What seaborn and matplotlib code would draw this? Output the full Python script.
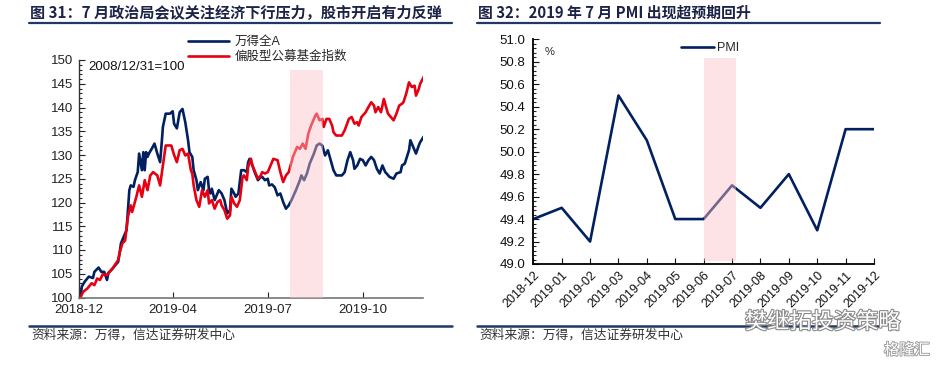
import matplotlib
matplotlib.use('Agg')
import matplotlib.pyplot as plt
import matplotlib.patheffects as pe
from matplotlib.lines import Line2D
from matplotlib.ticker import MultipleLocator, FormatStrFormatter
import seaborn as sns
import pandas as pd

# left chart: index level (2008/12/31=100) by trading-day position
wind_day = [0, 1, 3, 6, 9, 10, 13, 15, 17, 19, 20, 23, 27, 28, 29, 32, 33, 34, 35, 36,
            38, 39, 41, 42, 44, 45, 46, 47, 48, 49, 51, 53, 55, 57, 58, 59, 61, 64, 66, 67,
            69, 71, 73, 75, 77, 78, 80, 81, 83, 84, 86, 88, 89, 91, 92, 93, 94, 96, 98, 99,
            101, 103, 105, 107, 108, 110, 111, 113, 115, 117, 119, 120, 121, 123, 125, 127, 129, 130, 132, 134,
            135, 137, 139, 141, 143, 145, 147, 149, 151, 154, 157, 158, 160, 162, 164, 167, 169, 171, 173, 175,
            177, 179, 181, 183, 187, 189, 191, 193, 195, 196, 198, 200, 202, 204, 206, 208, 210, 212, 214, 216,
            218, 219, 221, 224, 226, 229, 230, 232, 235, 236, 238, 240, 242, 243, 246]
wind_val = [100.0, 102.3, 103.3, 104.4, 104.1, 105.4, 106.3, 105.4, 105.4, 103.7, 105.1, 106.1, 107.5, 109.3, 111.4, 113.5, 114.2, 118.4, 122.6, 123.6,
            123.3, 124.7, 126.4, 130.3, 126.8, 130.6, 126.8, 130.6, 129.6, 130.3, 131.3, 132.4, 130.3, 128.5, 132.0, 135.9, 138.7, 138.7, 139.2, 136.6,
            135.6, 139.0, 139.7, 136.9, 133.1, 130.6, 129.6, 126.8, 124.7, 122.6, 124.3, 122.6, 125.0, 125.4, 122.6, 121.9, 122.9, 120.5, 121.9, 122.6,
            121.9, 120.5, 117.7, 118.4, 122.9, 121.9, 121.2, 121.9, 126.8, 126.8, 126.4, 128.5, 129.2, 127.8, 126.1, 124.7, 125.4, 125.4, 124.7, 125.0,
            123.6, 123.8, 123.2, 121.5, 121.9, 120.1, 118.7, 119.4, 120.5, 122.5, 124.7, 125.7, 124.7, 126.1, 128.2, 130.3, 132.0, 132.4, 132.0, 129.9,
            131.0, 128.9, 126.8, 125.7, 125.7, 126.4, 128.9, 130.6, 128.9, 127.1, 127.8, 129.2, 128.9, 127.8, 128.9, 129.6, 128.9, 127.1, 126.1, 127.8,
            126.4, 126.1, 125.4, 125.0, 126.1, 126.4, 127.8, 128.2, 131.0, 133.1, 131.7, 130.3, 132.0, 132.7, 134.1]

fund_day = [0, 2, 5, 8, 10, 12, 14, 16, 19, 20, 23, 27, 28, 30, 32, 34, 36, 37, 40, 42,
            44, 46, 48, 50, 52, 55, 57, 59, 61, 65, 67, 69, 71, 73, 75, 77, 79, 80, 81, 83,
            85, 87, 89, 91, 92, 94, 96, 98, 100, 101, 103, 105, 107, 108, 110, 112, 114, 116, 117, 119,
            120, 122, 123, 125, 127, 129, 130, 132, 134, 138, 141, 143, 145, 147, 149, 152, 155, 157, 159, 161,
            163, 165, 168, 169, 171, 173, 174, 176, 178, 180, 181, 183, 187, 189, 192, 194, 196, 198, 199, 201,
            204, 206, 208, 210, 211, 213, 215, 217, 219, 220, 222, 224, 226, 228, 230, 231, 233, 235, 237, 239,
            240, 242, 243, 246]
fund_val = [100.0, 101.2, 101.9, 103.0, 102.6, 104.0, 103.7, 104.9, 104.7, 105.2, 106.1, 107.9, 109.3, 111.4, 112.0, 117.0, 119.4, 118.0, 121.2, 123.6,
            121.2, 124.7, 122.6, 125.7, 126.4, 125.7, 123.6, 127.8, 132.0, 132.0, 130.0, 128.5, 131.0, 131.3, 129.9, 130.3, 126.8, 126.1, 123.6, 120.5,
            119.1, 122.6, 121.2, 122.6, 119.8, 120.5, 118.7, 120.1, 120.5, 119.4, 118.4, 116.6, 117.3, 121.2, 119.8, 119.1, 120.5, 125.4, 125.7, 124.7,
            127.5, 129.2, 127.8, 126.4, 125.0, 125.7, 126.4, 126.1, 126.4, 129.2, 128.9, 126.4, 124.3, 125.7, 126.4, 129.6, 131.7, 131.3, 132.4, 131.3,
            134.5, 136.2, 138.3, 138.7, 137.3, 137.6, 135.9, 137.6, 137.6, 136.2, 134.8, 134.1, 134.1, 135.2, 137.6, 138.0, 136.6, 136.9, 136.2, 138.0,
            139.0, 140.1, 141.1, 140.4, 139.0, 140.1, 139.0, 141.8, 139.7, 138.7, 138.0, 137.3, 138.7, 140.4, 140.8, 141.1, 142.9, 145.3, 144.3, 144.6,
            142.5, 143.9, 145.0, 146.7]

date_ticks = [-1, 66, 134, 202]
date_labels = ['2018-12', '2019-04', '2019-07', '2019-10']

# right chart: PMI
pmi_month = ['2018-12', '2019-01', '2019-02', '2019-03', '2019-04', '2019-05', '2019-06',
             '2019-07', '2019-08', '2019-09', '2019-10', '2019-11', '2019-12']
pmi_val = [49.4, 49.5, 49.2, 50.5, 50.1, 49.4, 49.4, 49.7, 49.5, 49.8, 49.3, 50.2, 50.2]

navy = '#002060'
red = '#E60012'
shade = '#FBC3C7'
title_c = '#1B2347'
rule_c = '#1F3864'

sns.set_theme(style='ticks')
plt.rcParams['font.family'] = ['Liberation Sans', 'Noto Sans CJK SC']
plt.rcParams['axes.unicode_minus'] = False

fig = plt.figure(figsize=(9.36, 3.65), dpi=100)
W, H = 936, 365

def fx(px):
    return px / W

def fy(py):
    return 1 - py / H

# ---- left panel
ax1 = fig.add_axes([fx(79), fy(297.5), fx(422.7) - fx(79), fy(60) - fy(297.5)])
wind = pd.DataFrame({'day': wind_day, 'val': wind_val})
fund = pd.DataFrame({'day': fund_day, 'val': fund_val})
sns.lineplot(data=wind, x='day', y='val', ax=ax1, color=navy, lw=1.9, label='万得全A')
sns.lineplot(data=fund, x='day', y='val', ax=ax1, color=red, lw=1.9, label='偏股型公募基金指数')
ax1.axvspan(150, 173.4, ymin=0, ymax=(147.9 - 100) / 50, color=shade, alpha=0.45, lw=0, zorder=3)
ax1.set_xlim(-0.7, 244.8)
ax1.set_ylim(100, 150)
ax1.set_xticks(date_ticks, date_labels)
ax1.yaxis.set_major_locator(MultipleLocator(5))
ax1.yaxis.set_minor_locator(MultipleLocator(1))
ax1.set_xlabel('')
ax1.set_ylabel('')
ax1.tick_params(axis='both', direction='in', labelsize=9.5, colors='#222222', pad=4)
ax1.tick_params(axis='y', which='major', length=4, width=0.8)
ax1.tick_params(axis='y', which='minor', length=2.5, width=0.8, direction='in')
ax1.tick_params(axis='x', length=4, width=0.8, pad=5)
for s in ['top', 'right']:
    ax1.spines[s].set_visible(False)
ax1.spines['left'].set_color('#333333')
ax1.spines['bottom'].set_color('#777777')
ax1.spines['left'].set_linewidth(1.0)
ax1.spines['bottom'].set_linewidth(1.2)
ax1.text(0.026, 0.97, '2008/12/31=100', transform=ax1.transAxes, fontsize=9.5,
         va='center', ha='left', color='#111111')
ax1.legend(loc='upper left', bbox_to_anchor=(fx(188), fy(36)), bbox_transform=fig.transFigure,
           frameon=False, fontsize=9, handlelength=3.3, handletextpad=0.4,
           labelspacing=0.25, borderaxespad=0, borderpad=0)

# ---- right panel
ax2 = fig.add_axes([fx(533.3), fy(264), fx(874) - fx(533.3), fy(39.3) - fy(264)])
pmi = pd.DataFrame({'pos': range(len(pmi_month)), 'val': pmi_val})
sns.lineplot(data=pmi, x='pos', y='val', ax=ax2, color=navy, lw=1.9, label='PMI')
ax2.axvspan(6, 7.15, ymin=0.015, ymax=(50.83 - 49) / 2, color=shade, alpha=0.45, lw=0, zorder=3)
ax2.set_xlim(0, 12)
ax2.set_ylim(49, 51)
ax2.set_xticks(range(len(pmi_month)), pmi_month, rotation=45, ha='right', rotation_mode='anchor')
ax2.yaxis.set_major_locator(MultipleLocator(0.2))
ax2.yaxis.set_minor_locator(MultipleLocator(0.04))
ax2.yaxis.set_major_formatter(FormatStrFormatter('%.1f'))
ax2.set_xlabel('')
ax2.set_ylabel('')
ax2.tick_params(axis='both', direction='in', labelsize=9.5, colors='#111111')
ax2.tick_params(axis='y', which='major', length=4, width=0.8, pad=6)
ax2.tick_params(axis='y', which='minor', length=2.5, width=0.8, direction='in')
ax2.tick_params(axis='x', length=4, width=0.8, pad=4, labelsize=9)
for s in ['top', 'right']:
    ax2.spines[s].set_visible(False)
for s in ['left', 'bottom']:
    ax2.spines[s].set_color('#000000')
    ax2.spines[s].set_linewidth(1.3)
ax2.text(0.034, 0.943, '%', transform=ax2.transAxes, fontsize=8, va='center', ha='left')
ax2.legend(loc='upper left', bbox_to_anchor=(fx(681), fy(42)), bbox_transform=fig.transFigure,
           frameon=False, fontsize=9, handlelength=2.6, handletextpad=0.3,
           borderaxespad=0, borderpad=0)

# ---- titles, rules, sources
fig.text(fx(30), fy(13), '图 31：7 月政治局会议关注经济下行压力，股市开启有力反弹',
         fontsize=10.9, fontweight='bold', color=title_c, va='center', ha='left',
         family=['Noto Sans CJK SC'])
fig.text(fx(478), fy(13), '图 32：2019 年 7 月 PMI 出现超预期回升',
         fontsize=10.7, fontweight='bold', color=title_c, va='center', ha='left',
         family=['Noto Sans CJK SC'])
for x0, x1 in [(29, 452), (477, 880)]:
    fig.add_artist(Line2D([fx(x0), fx(x1)], [fy(23.3)] * 2, transform=fig.transFigure,
                          color=rule_c, lw=1.6))
    fig.add_artist(Line2D([fx(x0), fx(x1)], [fy(325.7)] * 2, transform=fig.transFigure,
                          color=rule_c, lw=1.8))
for x0 in [31, 479]:
    fig.text(fx(x0), fy(335.5), '资料来源：万得，信达证券研发中心', fontsize=9.2,
             color='#333333', va='center', ha='left', style='italic',
             family=['Noto Sans CJK SC'])

# watermark
fig.text(fx(745), fy(322), '樊继拓投资策略', fontsize=16, color='white', va='center', ha='left',
         family=['Noto Sans CJK SC'],
         path_effects=[pe.withStroke(linewidth=1.6, foreground='#8a8a8a')])
fig.text(fx(884), fy(350), '格隆汇', fontsize=11, color='white', va='center', ha='left',
         family=['Noto Sans CJK SC'],
         path_effects=[pe.withStroke(linewidth=1.4, foreground='#a0a0a0')])

fig.savefig('out.png', dpi=100)
